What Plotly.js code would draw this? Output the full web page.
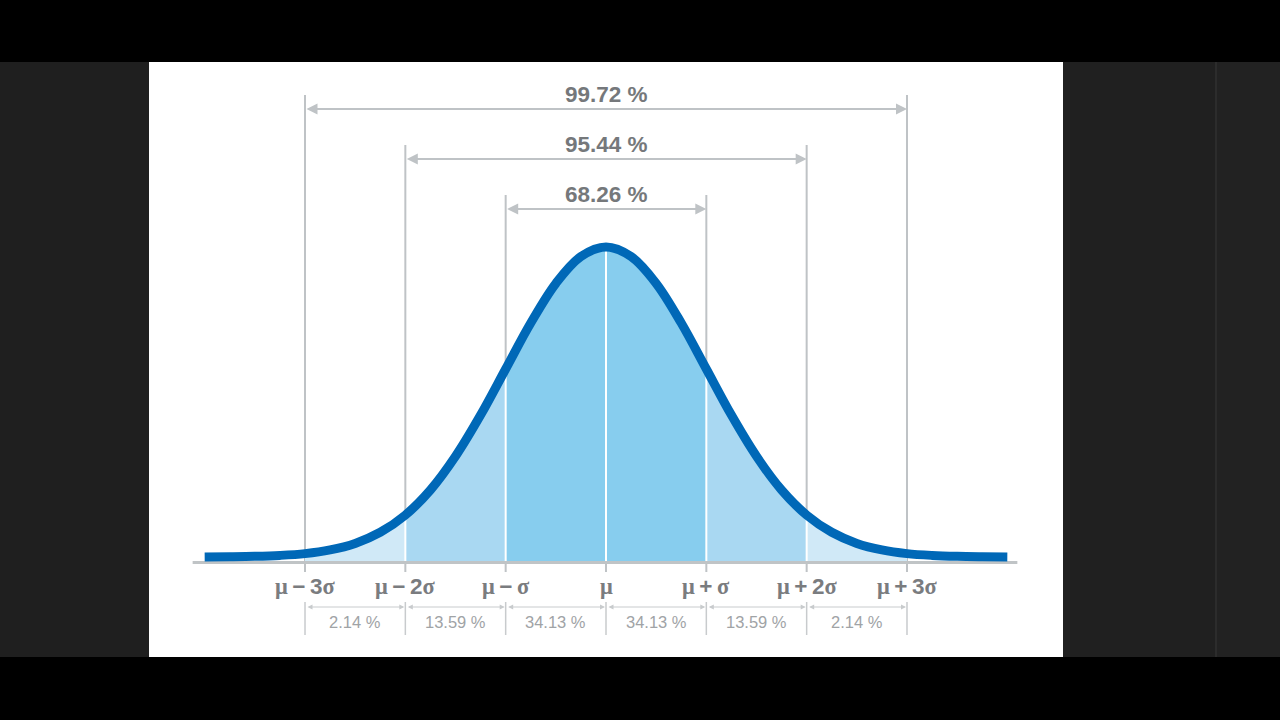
<!DOCTYPE html>
<html>
<head>
<meta charset="utf-8">
<script src="https://cdn.plot.ly/plotly-3.0.1.min.js"></script>
<style>
  html, body { margin: 0; padding: 0; background: #000; }
  #chart { width: 1280px; height: 720px; }
</style>
</head>
<body>
<div id="chart"></div>
<script>
// curve: x in sigma, y = height above the baseline
var curveX = [-4, -3.75, -3.5, -3.25, -3, -2.75, -2.5, -2.25, -2, -1.75, -1.5, -1.25, -1, -0.75, -0.5, -0.25,
              0, 0.25, 0.5, 0.75, 1, 1.25, 1.5, 1.75, 2, 2.25, 2.5, 2.75, 3, 3.25, 3.5, 3.75, 4];
var curveY = [4.1, 4.3, 4.7, 5.6, 7.4, 11.1, 17.6, 28.7, 45.9, 71, 104.7, 145.9, 192, 238, 277.6, 304.5,
              314, 304.5, 277.6, 238, 192, 145.9, 104.7, 71, 45.9, 28.7, 17.6, 11.1, 7.4, 5.6, 4.7, 4.3, 4.1];

var sigmaPos = [-3, -2, -1, 0, 1, 2, 3];
var tickLabels = ['μ−3σ', 'μ−2σ', 'μ−σ', 'μ', 'μ+σ', 'μ+2σ', 'μ+3σ'];
var bandShares = [2.14, 13.59, 34.13, 34.13, 13.59, 2.14];
var spanWidths = [1, 2, 3];
var spanShares = [68.26, 95.44, 99.72];

var bandColors = ['#d0e9f7', '#a9d8f2', '#87cdee', '#87cdee', '#a9d8f2', '#d0e9f7'];
var curveColor = '#0068b7';
var guideGray = '#bfc3c6';

// plot area = whole window; 1 y unit = 1 px, baseline at px 561, mu at px 606
var W = 1280, H = 720;
var sig = 100.33, mu = 606, base = 561;
var xRange = [-mu / sig, (W - mu) / sig];
var yRange = [base - H, base];

function heightAt(x) {
    return curveY[curveX.indexOf(x)];
}
function px(v) { return v / W; }
function py(v) { return 1 - v / H; }

var traces = [];

// filled bands
for (var b = 0; b < bandShares.length; b++) {
    var lo = sigmaPos[b], hi = sigmaPos[b + 1];
    var bx = [], by = [];
    for (var i = 0; i < curveX.length; i++) {
        if (curveX[i] >= lo && curveX[i] <= hi) {
            bx.push(curveX[i]);
            by.push(curveY[i]);
        }
    }
    traces.push({
        x: bx, y: by, type: 'scatter', mode: 'lines',
        fill: 'tozeroy', fillcolor: bandColors[b],
        line: { width: 0, shape: 'spline', color: bandColors[b] },
        hoverinfo: 'skip'
    });
}

// white dividers inside the fill
sigmaPos.forEach(function (k) {
    if (Math.abs(k) == 3) return;
    traces.push({
        x: [k, k], y: [0, heightAt(k)], type: 'scatter', mode: 'lines',
        line: { color: '#ffffff', width: 2 }, hoverinfo: 'skip'
    });
});

// the curve itself
traces.push({
    x: curveX, y: curveY, type: 'scatter', mode: 'lines',
    line: { color: curveColor, width: 9, shape: 'spline' },
    hoverinfo: 'skip'
});

var shapes = [
    // screen background panels
    { type: 'rect', xref: 'paper', yref: 'paper', x0: 0, x1: px(149), y0: py(657), y1: py(62), fillcolor: '#1f1f1f', line: { width: 0 }, layer: 'below' },
    { type: 'rect', xref: 'paper', yref: 'paper', x0: px(149), x1: px(1063), y0: py(657), y1: py(62), fillcolor: '#ffffff', line: { width: 0 }, layer: 'below' },
    { type: 'rect', xref: 'paper', yref: 'paper', x0: px(1063), x1: px(1215), y0: py(657), y1: py(62), fillcolor: '#202020', line: { width: 0 }, layer: 'below' },
    { type: 'rect', xref: 'paper', yref: 'paper', x0: px(1215), x1: px(1217), y0: py(657), y1: py(62), fillcolor: '#2c2c2c', line: { width: 0 }, layer: 'below' },
    { type: 'rect', xref: 'paper', yref: 'paper', x0: px(1217), x1: 1, y0: py(657), y1: py(62), fillcolor: '#222222', line: { width: 0 }, layer: 'below' },
    // baseline
    { type: 'line', x0: -4.12, x1: 4.1, y0: -1.5, y1: -1.5, line: { color: '#c0c4c6', width: 3 }, layer: 'below' }
];

var annotations = [];

// guide lines above the curve and the spans with their shares
spanWidths.forEach(function (w, j) {
    var top = 366 + 50 * j;
    [-w, w].forEach(function (k) {
        shapes.push({ type: 'line', x0: k, x1: k, y0: 0, y1: top, line: { color: guideGray, width: 2 }, layer: 'below' });
    });
    annotations.push({
        x: w, y: top - 14, ax: -w, ay: top - 14, xref: 'x', yref: 'y', axref: 'x', ayref: 'y',
        text: '', showarrow: true, arrowside: 'end+start', arrowhead: 2, arrowsize: 1.1,
        arrowwidth: 2, arrowcolor: guideGray, standoff: 0, startstandoff: 0
    });
    annotations.push({
        x: 0, y: top + 1, xref: 'x', yref: 'y', showarrow: false,
        text: '<b>' + spanShares[j].toFixed(2) + ' %</b>',
        font: { family: 'Liberation Sans, Arial, sans-serif', size: 22.5, color: '#75787b' }
    });
});

// ticks and labels under the baseline
sigmaPos.forEach(function (k, i) {
    shapes.push({ type: 'line', x0: k, x1: k, y0: -3, y1: -11, line: { color: guideGray, width: 2 } });
    shapes.push({ type: 'line', x0: k, x1: k, y0: -41, y1: -74, line: { color: '#c8cbcd', width: 1.5 } });
    var lab = tickLabels[i]
        .replace(/μ/g, '<span style="font-family:Liberation Serif">μ</span>')
        .replace(/σ/g, '<span style="font-family:Liberation Serif">σ</span>')
        .replace(/([−+])/g, '\u2009$1\u2009');
    annotations.push({
        x: k, y: -25, xref: 'x', yref: 'y', showarrow: false,
        text: '<b>' + lab + '</b>',
        font: { family: 'Liberation Sans, Arial, sans-serif', size: 22.5, color: '#7a7c7f' }
    });
});

bandShares.forEach(function (s, b) {
    var lo = sigmaPos[b], hi = sigmaPos[b + 1];
    annotations.push({
        x: hi, y: -46, ax: lo, ay: -46, xref: 'x', yref: 'y', axref: 'x', ayref: 'y',
        text: '', showarrow: true, arrowside: 'end+start', arrowhead: 2, arrowsize: 1,
        arrowwidth: 1, arrowcolor: '#c8cbcd', standoff: 1, startstandoff: 1
    });
    annotations.push({
        x: (lo + hi) / 2, y: -61, xref: 'x', yref: 'y', showarrow: false,
        text: s.toFixed(2) + ' %',
        font: { family: 'Liberation Sans, Arial, sans-serif', size: 16.5, color: '#a0a3a6' }
    });
});

var layout = {
    width: W, height: H, autosize: false,
    margin: { l: 0, r: 0, t: 0, b: 0, pad: 0 },
    paper_bgcolor: '#000000', plot_bgcolor: 'rgba(0,0,0,0)',
    showlegend: false,
    xaxis: { range: xRange, visible: false, fixedrange: true },
    yaxis: { range: yRange, visible: false, fixedrange: true },
    shapes: shapes,
    annotations: annotations
};

Plotly.newPlot('chart', traces, layout, { displayModeBar: false, staticPlot: true });
</script>
</body>
</html>
